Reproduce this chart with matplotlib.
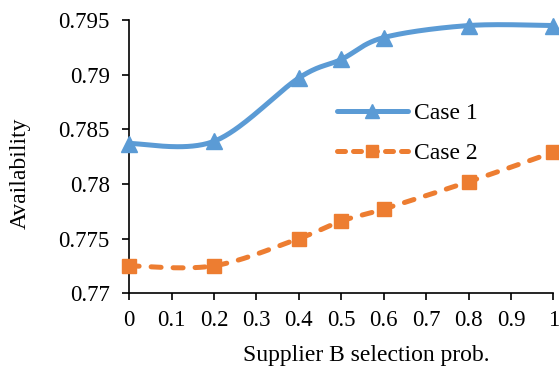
import numpy as np
import matplotlib
matplotlib.use("Agg")
import matplotlib.pyplot as plt

# data
x_prob = [0, 0.2, 0.4, 0.5, 0.6, 0.8, 1.0]
case1 = [0.7837, 0.7839, 0.7897, 0.7914, 0.7934, 0.7945, 0.7945]
case2 = [0.7725, 0.7725, 0.7750, 0.7766, 0.7777, 0.7802, 0.7829]
x_ticks = [0, 0.1, 0.2, 0.3, 0.4, 0.5, 0.6, 0.7, 0.8, 0.9, 1]
x_tick_labels = ["0", "0.1", "0.2", "0.3", "0.4", "0.5", "0.6", "0.7", "0.8", "0.9", "1"]
y_ticks = [0.77, 0.775, 0.78, 0.785, 0.79, 0.795]
y_tick_labels = ["0.77", "0.775", "0.78", "0.785", "0.79", "0.795"]

BLUE = "#5B9BD5"
ORANGE = "#ED7D31"


def smooth(xs, ys, n=40):
    # Excel-like smoothed line: Bezier segments with Catmull-Rom control points
    p = np.column_stack([xs, ys]).astype(float)
    out = []
    for i in range(len(p) - 1):
        p0 = p[i - 1] if i > 0 else p[i]
        p3 = p[i + 2] if i + 2 < len(p) else p[i + 1]
        c1 = p[i] + (p[i + 1] - p0) / 6.0
        c2 = p[i + 1] - (p3 - p[i]) / 6.0
        t = np.linspace(0, 1, n)[:, None]
        seg = ((1 - t) ** 3) * p[i] + 3 * ((1 - t) ** 2) * t * c1 \
            + 3 * (1 - t) * t ** 2 * c2 + t ** 3 * p[i + 1]
        out.append(seg if i == 0 else seg[1:])
    out = np.vstack(out)
    return out[:, 0], out[:, 1]


plt.rcParams["font.family"] = ["Liberation Serif", "DejaVu Serif"]
plt.rcParams["font.size"] = 16.5

fig = plt.figure(figsize=(5.59, 3.72), dpi=100)
ax = fig.add_axes([0.231, 0.212, 0.759, 0.734])

LW = 3.6
DASH = (2.0, 2.4)

sx, sy = smooth(x_prob, case1)
ax.plot(sx, sy, color=BLUE, lw=LW, solid_capstyle="round", zorder=3, clip_on=False)
ax.plot(x_prob, case1, ls="none", marker="^", ms=11, color=BLUE, zorder=4, clip_on=False)

sx, sy = smooth(x_prob, case2)
ax.plot(sx, sy, color=ORANGE, lw=LW, dashes=DASH, dash_capstyle="round", zorder=3,
        clip_on=False)
ax.plot(x_prob, case2, ls="none", marker="s", ms=9.5, color=ORANGE, zorder=4, clip_on=False)

# legend handles
h1, = ax.plot([], [], color=BLUE, lw=LW, marker="^", ms=10, solid_capstyle="round")
h2, = ax.plot([], [], color=ORANGE, lw=LW, marker="s", ms=8.5, dashes=(1.6, 1.6),
              dash_capstyle="round")
ax.legend([h1, h2], ["Case 1", "Case 2"], loc="center left", bbox_to_anchor=(0.49, 0.585),
          frameon=False, handlelength=3.0, handletextpad=0.25, labelspacing=0.8,
          borderaxespad=0, borderpad=0, fontsize=17)

ax.set_xlim(0, 1)
ax.set_ylim(0.77, 0.795)
ax.set_xticks(x_ticks)
ax.set_xticklabels(x_tick_labels)
ax.set_yticks(y_ticks)
ax.set_yticklabels(y_tick_labels)
ax.tick_params(direction="out", length=5, width=1.2)
ax.tick_params(axis="x", pad=7)
ax.tick_params(axis="y", pad=9)
for s in ("top", "right"):
    ax.spines[s].set_visible(False)
for s in ("left", "bottom"):
    ax.spines[s].set_linewidth(1.2)
ax.set_xlabel("Supplier B selection prob.", fontsize=17)
ax.set_ylabel("Availability", fontsize=17)
ax.xaxis.set_label_coords(0.56, -0.19)
ax.yaxis.set_label_coords(-0.232, 0.44)

fig.savefig("out.png", dpi=100)
